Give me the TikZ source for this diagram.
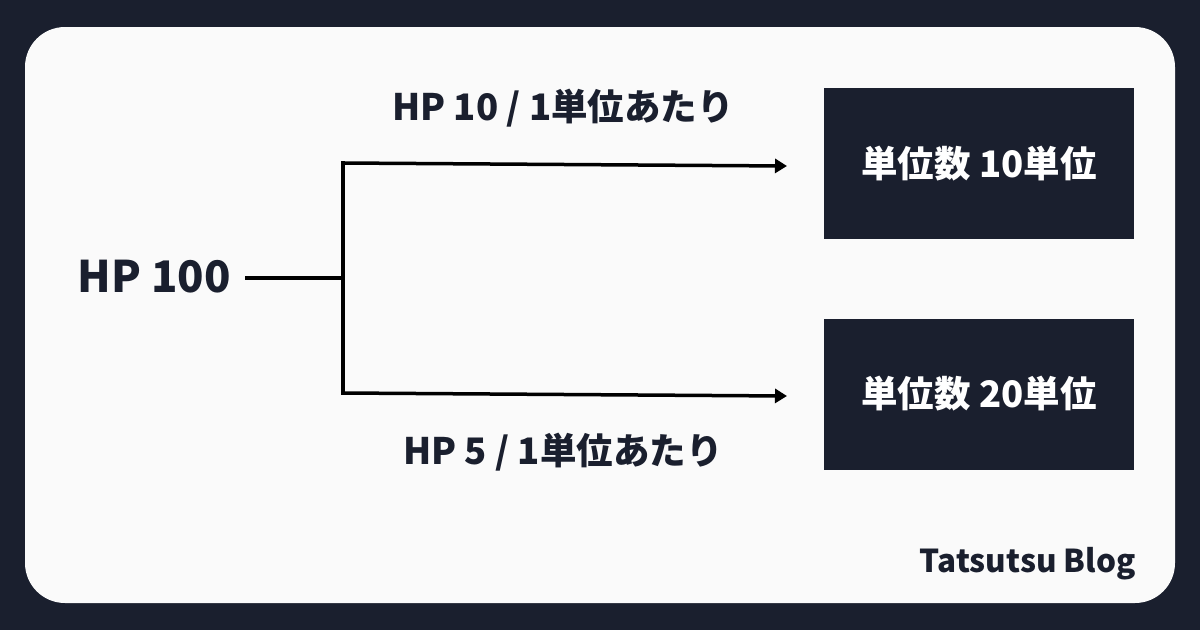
\documentclass[tikz,border=0pt]{standalone}
\usepackage{fontspec}
\setmainfont{Noto Sans CJK JP}
\usetikzlibrary{arrows.meta}
\definecolor{bgdark}{HTML}{1A1F2E}
\definecolor{panel}{HTML}{FAFAFA}
\tikzset{
  conn/.style={line width=3.5pt, black},
  arr/.style={conn, -{Triangle[length=12pt,width=14pt]}},
  darkbox/.style={fill=bgdark, draw=none, minimum width=310pt, minimum height=151pt, inner sep=0pt, text=white, font=\fontsize{36.5}{40}\selectfont\bfseries},
  lbl/.style={text=bgdark, inner sep=0pt, font=\fontsize{36.5}{40}\selectfont\bfseries},
}
\begin{document}
\begin{tikzpicture}[x=1pt,y=-1pt]
\fill[bgdark] (0,0) rectangle (1200,630);
\useasboundingbox (0,0) rectangle (1200,630);
\fill[panel, rounded corners=40pt] (25,27) rectangle (1175,603);
\node[lbl, font=\fontsize{43.5}{48}\selectfont\bfseries] (hp) at (154,277) {HP 100};
\coordinate (s) at (245,278);
\coordinate (j) at (343,278);
\coordinate (jt) at (343,163);
\coordinate (jb) at (343,393);
\coordinate (et) at (787,166);
\coordinate (eb) at (787,396);
\node[darkbox] (b1) at (979,163.5) {単位数 10単位};
\node[darkbox] (b2) at (979,394) {単位数 20単位};
\node[lbl] (l1) at (563,108) {HP 10 / 1単位あたり};
\node[lbl] (l2) at (563,452) {HP 5 / 1単位あたり};
\node[lbl, font=\fontsize{31.5}{36}\selectfont\bfseries, anchor=east] (blog) at (1136,564) {Tatsutsu Blog};
\draw[conn] (s) -- (j);
\draw[conn, line cap=rect] (jt) -- (jb);
\draw[arr] (jt) -- (et);
\draw[arr] (jb) -- (eb);
\end{tikzpicture}
\end{document}
